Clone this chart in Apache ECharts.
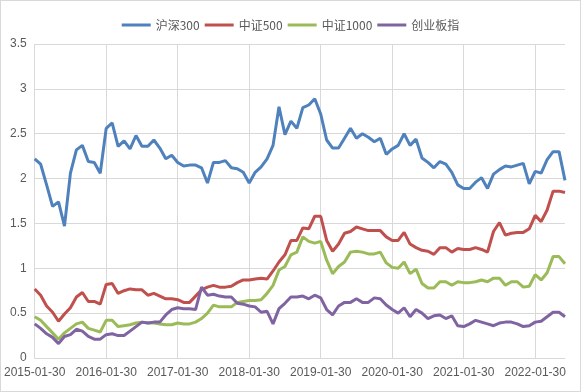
<!DOCTYPE html>
<html>
<head>
<meta charset="utf-8">
<script src="https://cdn.jsdelivr.net/npm/echarts@6/dist/echarts.min.js"></script>
<style>
html,body{margin:0;padding:0;background:#fff;}
#c{width:581px;height:392px;box-sizing:border-box;border:1px solid #d9d9d9;}
</style>
</head>
<body>
<div id="c"></div>
<script>
var seriesNames = ['沪深300', '中证500', '中证1000', '创业板指'];
var startYear = 2015, monthCount = 90;
var categories = [];
for (var k = 0; k < monthCount; k++) {
  var y = startYear + Math.floor(k / 12), m = (k % 12) + 1;
  categories.push(y + '-' + (m < 10 ? '0' + m : m) + '-30');
}
var hs300 = [2.22,2.16,1.93,1.69,1.74,1.47,2.06,2.32,2.37,2.19,2.18,2.06,
  2.56,2.62,2.36,2.42,2.33,2.48,2.36,2.36,2.43,2.34,2.22,2.26,
  2.18,2.14,2.15,2.15,2.12,1.95,2.18,2.18,2.20,2.12,2.11,2.07,
  1.95,2.07,2.13,2.22,2.37,2.80,2.49,2.64,2.56,2.79,2.82,2.89,
  2.72,2.43,2.34,2.34,2.45,2.56,2.45,2.50,2.46,2.41,2.45,2.27,
  2.33,2.37,2.50,2.37,2.44,2.23,2.18,2.12,2.19,2.16,2.07,1.93,
  1.89,1.89,1.96,2.01,1.89,2.05,2.10,2.14,2.13,2.15,2.17,1.94,
  2.08,2.06,2.21,2.30,2.30,1.98];
var zz500 = [0.77,0.70,0.58,0.51,0.41,0.49,0.56,0.68,0.73,0.63,0.63,0.60,
  0.82,0.83,0.72,0.75,0.77,0.76,0.76,0.70,0.72,0.69,0.66,0.66,
  0.65,0.62,0.62,0.69,0.76,0.79,0.81,0.79,0.79,0.80,0.84,0.87,
  0.87,0.88,0.89,0.88,0.97,1.07,1.15,1.31,1.31,1.45,1.44,1.58,
  1.58,1.31,1.19,1.27,1.39,1.41,1.46,1.44,1.42,1.42,1.42,1.35,
  1.31,1.31,1.40,1.27,1.23,1.20,1.19,1.155,1.23,1.23,1.18,1.22,
  1.21,1.21,1.23,1.21,1.18,1.41,1.51,1.37,1.39,1.40,1.40,1.44,
  1.59,1.52,1.65,1.86,1.86,1.845];
var zz1000 = [0.46,0.42,0.35,0.28,0.21,0.28,0.33,0.38,0.40,0.33,0.31,0.29,
  0.42,0.42,0.35,0.36,0.37,0.39,0.40,0.39,0.39,0.38,0.37,0.37,
  0.39,0.38,0.38,0.40,0.44,0.50,0.59,0.57,0.57,0.57,0.62,0.63,
  0.64,0.64,0.65,0.72,0.81,0.98,1.02,1.15,1.18,1.35,1.30,1.28,
  1.30,1.09,0.94,1.02,1.07,1.18,1.19,1.18,1.16,1.16,1.18,1.06,
  1.01,1.00,1.07,0.94,0.99,0.83,0.78,0.78,0.85,0.85,0.81,0.85,
  0.84,0.84,0.85,0.87,0.85,0.89,0.89,0.81,0.85,0.85,0.79,0.80,
  0.93,0.87,0.95,1.13,1.13,1.05];
var cybz = [0.38,0.33,0.27,0.23,0.16,0.24,0.26,0.32,0.30,0.24,0.21,0.21,
  0.26,0.27,0.25,0.25,0.30,0.35,0.40,0.39,0.40,0.40,0.48,0.54,
  0.56,0.55,0.55,0.54,0.79,0.70,0.71,0.69,0.68,0.68,0.61,0.60,
  0.58,0.57,0.51,0.52,0.38,0.55,0.61,0.68,0.68,0.69,0.66,0.70,
  0.67,0.54,0.48,0.58,0.62,0.62,0.66,0.62,0.62,0.67,0.66,0.59,
  0.54,0.50,0.56,0.46,0.54,0.50,0.44,0.47,0.48,0.44,0.47,0.36,
  0.35,0.38,0.42,0.40,0.38,0.36,0.39,0.40,0.40,0.38,0.35,0.36,
  0.40,0.41,0.46,0.51,0.51,0.46];
var yTicks = {min: 0, max: 3.5, interval: 0.5};
var colors = ['#4F81BD', '#C0504D', '#9BBB59', '#8064A2'];

var chart = echarts.init(document.getElementById('c'), null, {renderer: 'canvas'});
var dataSets = [hs300, zz500, zz1000, cybz];
chart.setOption({
  animation: false,
  color: colors,
  textStyle: {fontFamily: 'Liberation Sans, Noto Sans CJK SC', color: '#595959'},
  legend: {
    top: 13, left: 'center',
    icon: 'rect', itemWidth: 29, itemHeight: 3, itemGap: 5,
    textStyle: {fontSize: 12, color: '#595959', fontFamily: 'Noto Sans CJK SC'},
    data: seriesNames
  },
  grid: {left: 33, right: 15, top: 43, bottom: 33, containLabel: false},
  xAxis: {
    type: 'category', boundaryGap: false, data: categories,
    axisLine: {show: true, lineStyle: {color: '#d9d9d9', width: 1}},
    axisTick: {show: false},
    axisLabel: {interval: 11, color: '#595959', fontSize: 12, margin: 9},
    splitLine: {show: true, interval: 11, lineStyle: {color: '#d9d9d9', width: 1}}
  },
  yAxis: {
    type: 'value', min: yTicks.min, max: yTicks.max, interval: yTicks.interval,
    axisLine: {show: false}, axisTick: {show: false},
    axisLabel: {color: '#595959', fontSize: 12, margin: 8},
    splitLine: {show: true, lineStyle: {color: '#d9d9d9', width: 1}}
  },
  series: seriesNames.map(function (n, i) {
    return {
      name: n, type: 'line', data: dataSets[i], symbol: 'none',
      lineStyle: {width: 3, color: colors[i]}, z: 2 + i
    };
  })
});
</script>
</body>
</html>
